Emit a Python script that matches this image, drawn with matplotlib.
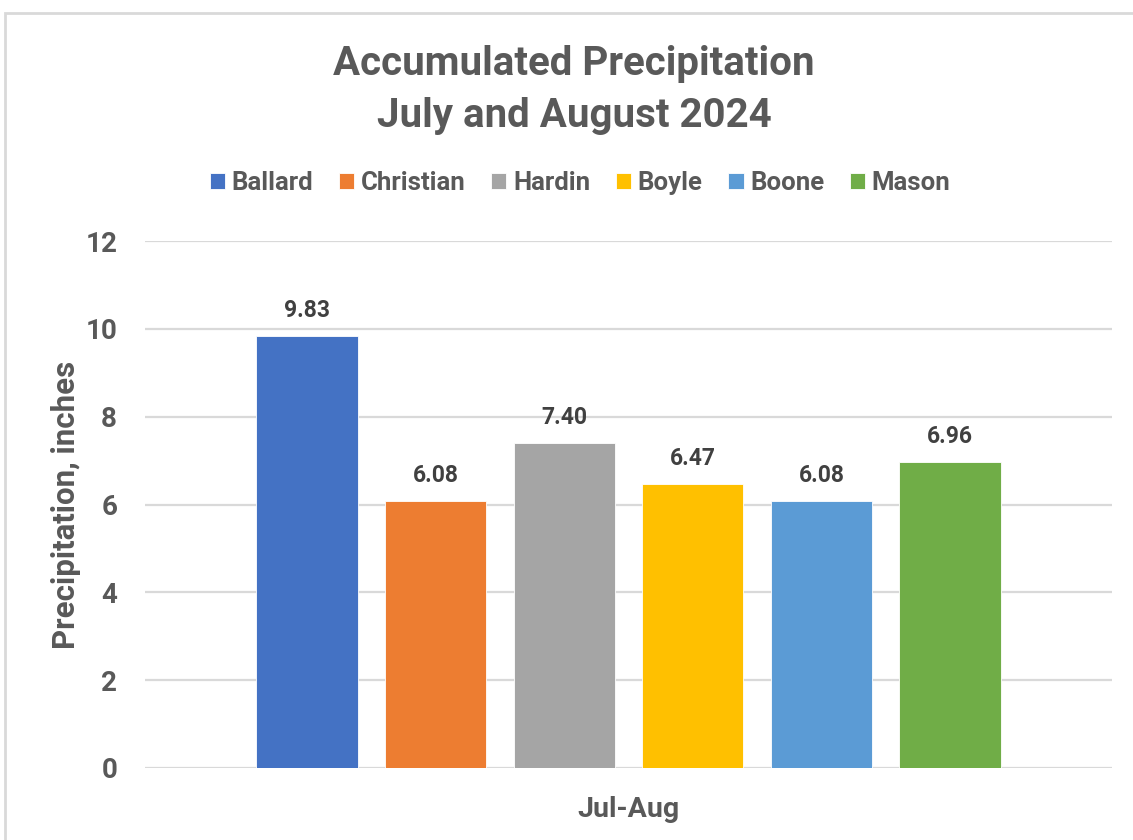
import matplotlib.pyplot as plt
from matplotlib.patches import Rectangle

counties = ["Ballard", "Christian", "Hardin", "Boyle", "Boone", "Mason"]
precip = [9.83, 6.08, 7.40, 6.47, 6.08, 6.96]
colors = ["#4472C4", "#ED7D31", "#A5A5A5", "#FFC000", "#5B9BD5", "#70AD47"]
period = "Jul-Aug"
yticks = [0, 2, 4, 6, 8, 10, 12]

plt.rcParams["font.family"] = ["Roboto", "DejaVu Sans"]
plt.rcParams["font.weight"] = "bold"
gray = "#595959"

W, H = 1133, 840
fig = plt.figure(figsize=(W / 100, H / 100), dpi=100)

# chart frame
fig.patches.append(Rectangle((5 / W, -0.05), 1.2, 1 - 13 / H + 0.05,
                             transform=fig.transFigure, fill=False,
                             edgecolor="#d9d9d9", linewidth=2))

ax = fig.add_axes([145 / W, 72 / H, 967 / W, 527 / H])

for i, (name, val, c) in enumerate(zip(counties, precip, colors)):
    ax.bar(i, val, width=0.786, color=c, edgecolor="white", linewidth=0.6,
           label=name, zorder=3)
    ax.text(i, val + 0.32, f"{val:.2f}", ha="center", va="bottom",
            fontsize=16.5, fontweight="bold", color="#404040")

ax.set_xlim(-1.26, 6.26)
ax.set_ylim(0, 12)
ax.set_yticks(yticks)
ax.set_xticks([])
ax.grid(axis="y", color="#d9d9d9", linewidth=1.6, zorder=0)
for s in ax.spines.values():
    s.set_visible(False)
ax.tick_params(axis="y", length=0, pad=20, labelsize=20, labelcolor=gray)

ax.set_ylabel("Precipitation, inches", fontsize=22.5, color=gray,
              fontweight="bold", labelpad=3)
ax.set_xlabel(period, fontsize=20.5, color=gray, fontweight="bold",
              labelpad=20)

fig.text(574 / W, 1 - 90 / H, "Accumulated Precipitation\nJuly and August 2024",
         ha="center", va="center", fontsize=29, fontweight="bold",
         color=gray, linespacing=1.45)

ax.legend(loc="center", bbox_to_anchor=(580 / W, 1 - 183 / H),
          bbox_transform=fig.transFigure, ncol=6, frameon=False,
          fontsize=18.5, labelcolor=gray, handlelength=0.6, handleheight=0.6,
          handletextpad=0.25, columnspacing=1.0)

fig.savefig("out.png", dpi=100)
